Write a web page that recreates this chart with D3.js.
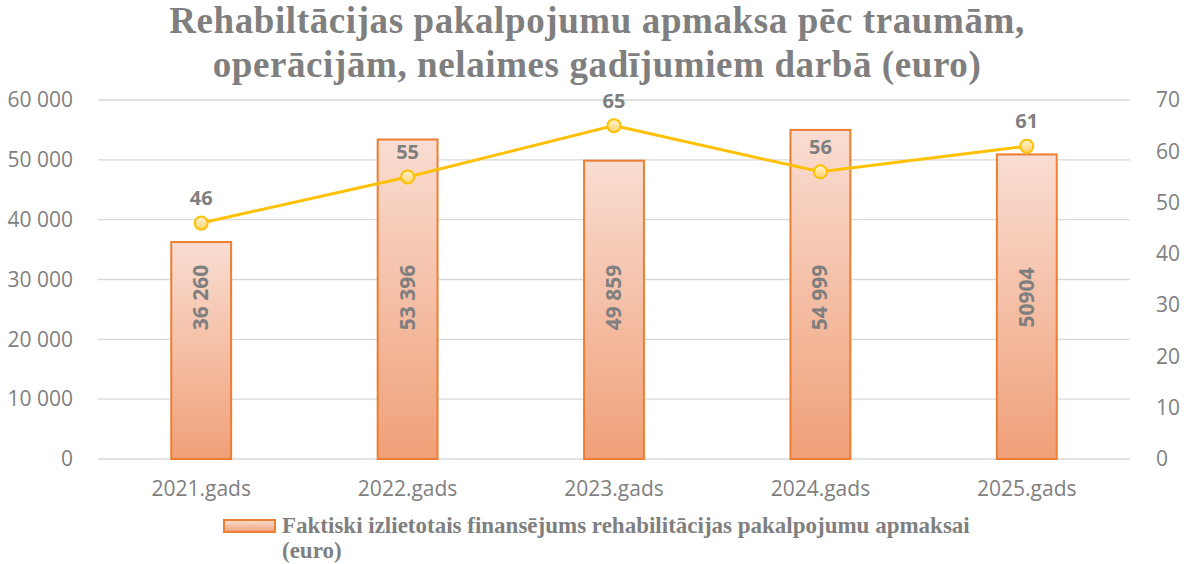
<!DOCTYPE html>
<html>
<head>
<meta charset="utf-8">
<script src="https://cdn.jsdelivr.net/npm/d3@7"></script>
<style>
  body { margin: 0; background: #fff; }
  svg text { fill: #7f7f7f; }
</style>
</head>
<body>
<svg id="chart" width="1184" height="564"></svg>
<script>
// data
const years = ["2021.gads", "2022.gads", "2023.gads", "2024.gads", "2025.gads"];
const funding = [36260, 53396, 49859, 54999, 50904];
const fundingLabels = ["36 260", "53 396", "49 859", "54 999", "50904"];
const persons = [46, 55, 65, 56, 61];
const leftTicks = [0, 10000, 20000, 30000, 40000, 50000, 60000];
const rightTicks = [0, 10, 20, 30, 40, 50, 60, 70];
const titleLines = ["Rehabiltācijas pakalpojumu apmaksa pēc traumām,", "operācijām, nelaimes gadījumiem darbā (euro)"];
const legendLines = ["Faktiski izlietotais finansējums rehabilitācijas pakalpojumu apmaksai", "(euro)"];

const svg = d3.select("#chart");
const W = 1184;
const plot = { left: 98, right: 1130, top: 100, bottom: 459 };
const sans = "'Open Sans', sans-serif";
const serif = "'Liberation Serif', 'Times New Roman', serif";

// gradients
const defs = svg.append("defs");
function vgrad(id, top, bottom) {
  const g = defs.append("linearGradient").attr("id", id)
    .attr("x1", 0).attr("y1", 0).attr("x2", 0).attr("y2", 1);
  g.append("stop").attr("offset", "0%").attr("stop-color", top);
  g.append("stop").attr("offset", "100%").attr("stop-color", bottom);
}
vgrad("barGrad", "#f9ddd2", "#f0a078");
vgrad("dotGrad", "#fff3d6", "#ffd56a");
vgrad("legGrad", "#f9ddd2", "#f0a078");

// scales
const x = d3.scaleBand().domain(years).range([plot.left, plot.right]).paddingInner(0.71).paddingOuter(0.355);
const yL = d3.scaleLinear().domain([0, 60000]).range([plot.bottom, plot.top]);
const yR = d3.scaleLinear().domain([0, 70]).range([plot.bottom, plot.top]);
const fmt = v => d3.format(",")(v).replace(/,/g, " ");

// title
svg.append("g").selectAll("text").data(titleLines).join("text")
  .attr("x", W / 2 + 5).attr("y", (d, i) => 33 + i * 44)
  .attr("text-anchor", "middle")
  .style("font-family", serif).style("font-weight", "bold").style("font-size", "37px")
  .style("letter-spacing", "0.6px")
  .text(d => d);

// grid lines
svg.append("g").selectAll("line").data(leftTicks).join("line")
  .attr("x1", plot.left).attr("x2", plot.right)
  .attr("y1", d => yL(d)).attr("y2", d => yL(d))
  .attr("stroke", "#d9d9d9").attr("stroke-width", 1.3);

// left axis
const axL = svg.append("g").attr("transform", `translate(${plot.left - 22},0)`)
  .call(d3.axisLeft(yL).tickValues(leftTicks).tickFormat(fmt).tickSize(0));
axL.select(".domain").remove();
axL.selectAll("text").style("font-family", sans).style("font-size", "21px").attr("fill", "#7f7f7f");

// right axis
const axR = svg.append("g").attr("transform", `translate(${plot.right + 23},0)`)
  .call(d3.axisRight(yR).tickValues(rightTicks).tickSize(0));
axR.select(".domain").remove();
axR.selectAll("text").style("font-family", sans).style("font-size", "21px").attr("fill", "#7f7f7f");

// x axis
const axX = svg.append("g").attr("transform", `translate(0,${plot.bottom + 19})`)
  .call(d3.axisBottom(x).tickSize(0));
axX.select(".domain").remove();
axX.selectAll("text").style("font-family", sans).style("font-size", "21px").attr("fill", "#7f7f7f");

// bars
svg.append("g").selectAll("rect").data(funding).join("rect")
  .attr("x", (d, i) => x(years[i]))
  .attr("y", d => yL(d))
  .attr("width", x.bandwidth())
  .attr("height", d => yL(0) - yL(d))
  .attr("fill", "url(#barGrad)")
  .attr("stroke", "#ed7d31").attr("stroke-width", 2);

// bar labels (rotated)
svg.append("g").selectAll("text").data(fundingLabels).join("text")
  .attr("transform", (d, i) => `translate(${x(years[i]) + x.bandwidth() / 2 + 7},${yL(27000)}) rotate(-90)`)
  .attr("text-anchor", "middle")
  .style("font-family", sans).style("font-weight", "bold").style("font-size", "21px")
  .text(d => d);

// line
const cx = i => x(years[i]) + x.bandwidth() / 2;
const line = d3.line().x((d, i) => cx(i)).y(d => yR(d));
svg.append("path").datum(persons)
  .attr("d", line).attr("fill", "none")
  .attr("stroke", "#ffc000").attr("stroke-width", 3);

svg.append("g").selectAll("circle").data(persons).join("circle")
  .attr("cx", (d, i) => cx(i)).attr("cy", d => yR(d)).attr("r", 6.5)
  .attr("fill", "url(#dotGrad)").attr("stroke", "#ffc000").attr("stroke-width", 2);

svg.append("g").selectAll("text").data(persons).join("text")
  .attr("x", (d, i) => cx(i)).attr("y", d => yR(d) - 18)
  .attr("text-anchor", "middle")
  .style("font-family", sans).style("font-weight", "bold").style("font-size", "20px")
  .text(d => d);

// legend
const leg = svg.append("g");
leg.append("rect").attr("x", 224).attr("y", 520).attr("width", 51).attr("height", 12)
  .attr("fill", "url(#legGrad)").attr("stroke", "#ed7d31").attr("stroke-width", 2);
leg.selectAll("text").data(legendLines).join("text")
  .attr("x", 282).attr("y", (d, i) => 533 + i * 25)
  .style("font-family", serif).style("font-weight", "bold").style("font-size", "23px")
  .text(d => d);
</script>
</body>
</html>
